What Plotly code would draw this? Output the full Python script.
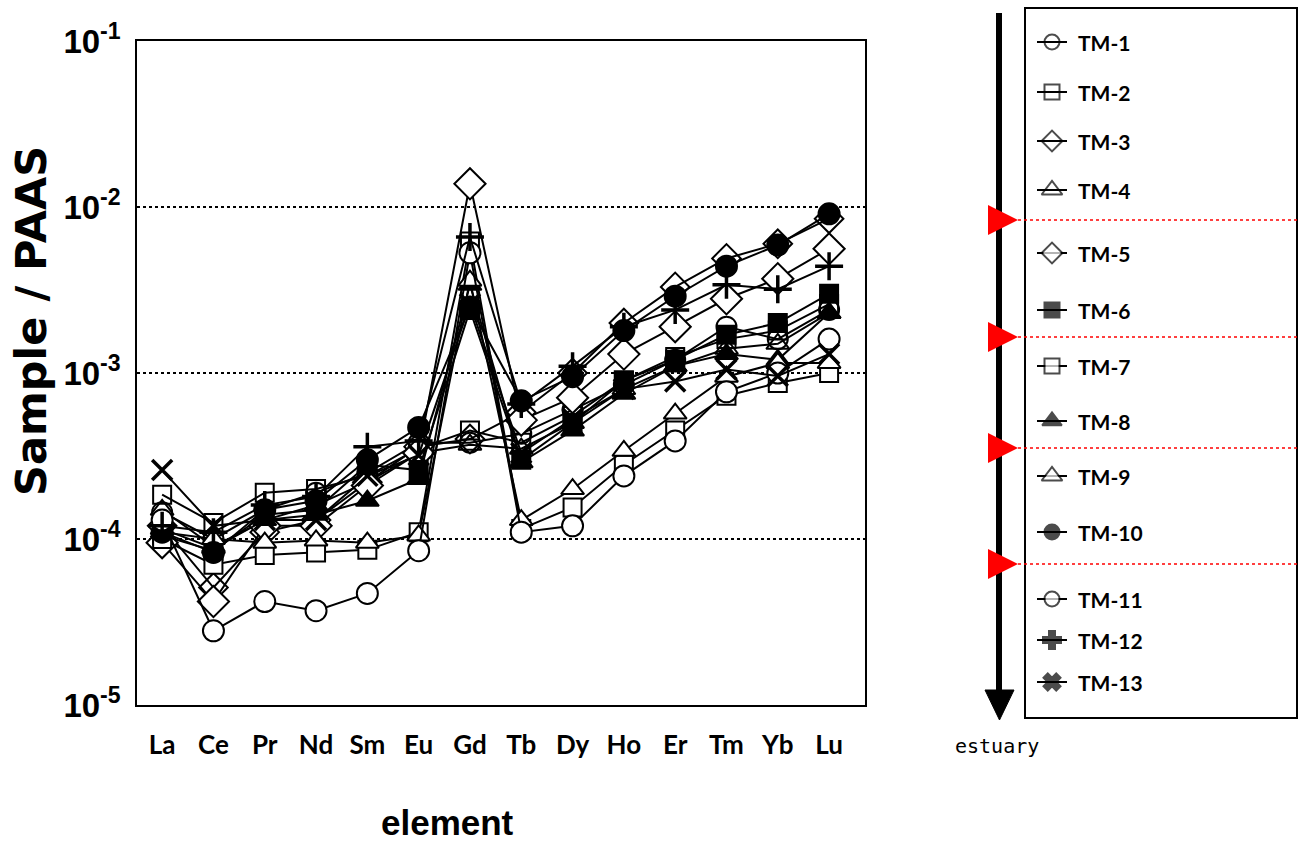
import plotly.graph_objects as go

# Rare earth elements (x axis)
elements = ["La", "Ce", "Pr", "Nd", "Sm", "Eu", "Gd", "Tb", "Dy", "Ho", "Er", "Tm", "Yb", "Lu"]

# PAAS-normalised concentrations for each sample
tm1 = [1.45e-4, 1.0e-4, 1.5e-4, 1.9e-4, 2.5e-4, 3.8e-4, 3.8e-4, 4.3e-4, 6.0e-4, 8.5e-4, 1.2e-3, 1.9e-3, 1.6e-3, 2.4e-3]
tm2 = [1.85e-4, 1.25e-4, 1.9e-4, 2.0e-4, 2.4e-4, 3.5e-4, 4.5e-4, 3.8e-4, 5.5e-4, 9.0e-4, 1.25e-3, 1.6e-3, 1.8e-3, 2.6e-3]
tm3 = [1.2e-4, 5.1e-5, 1.1e-4, 1.3e-4, 2.2e-4, 3.6e-4, 4.0e-4, 5.8e-4, 1.0e-3, 2.0e-3, 3.3e-3, 4.9e-3, 6.0e-3, 8.5e-3]
tm4 = [1.5e-4, 9.0e-5, 1.3e-4, 1.6e-4, 2.2e-4, 3.3e-4, 3.7e-4, 3.5e-4, 5.0e-4, 8.0e-4, 1.1e-3, 1.4e-3, 1.5e-3, 2.3e-3]
tm5 = [9.5e-5, 4.2e-5, 1.2e-4, 1.2e-4, 2.1e-4, 3.3e-4, 1.38e-2, 5.2e-4, 7.1e-4, 1.3e-3, 1.9e-3, 2.8e-3, 3.7e-3, 5.6e-3]
tm6 = [1.05e-4, 8.5e-5, 1.4e-4, 1.5e-4, 2.8e-4, 2.6e-4, 2.4e-3, 3.0e-4, 5.0e-4, 9.0e-4, 1.2e-3, 1.7e-3, 2.0e-3, 3.0e-3]
tm7 = [1.0e-4, 7.0e-5, 8.0e-5, 8.3e-5, 8.6e-5, 1.1e-4, 6.2e-3, 1.15e-4, 1.55e-4, 2.8e-4, 4.5e-4, 7.3e-4, 8.7e-4, 1.0e-3]
tm8 = [1.15e-4, 8.8e-5, 1.3e-4, 1.4e-4, 1.7e-4, 2.3e-4, 3.4e-3, 2.9e-4, 4.5e-4, 7.5e-4, 1.1e-3, 1.3e-3, 1.2e-3, 2.3e-3]
tm9 = [1.1e-4, 1.0e-4, 9.5e-5, 9.8e-5, 9.5e-5, 1.05e-4, 3.6e-3, 1.3e-4, 2.0e-4, 3.4e-4, 5.7e-4, 9.5e-4, 1.15e-3, 1.15e-3]
tm10 = [1.1e-4, 8.3e-5, 1.5e-4, 1.7e-4, 3.0e-4, 4.7e-4, 2.5e-3, 6.8e-4, 9.5e-4, 1.8e-3, 2.9e-3, 4.4e-3, 5.9e-3, 9.1e-3]
tm11 = [1.3e-4, 2.8e-5, 4.2e-5, 3.7e-5, 4.7e-5, 8.5e-5, 5.3e-3, 1.1e-4, 1.2e-4, 2.4e-4, 3.9e-4, 7.7e-4, 1.0e-3, 1.6e-3]
tm12 = [1.2e-4, 1.1e-4, 1.6e-4, 1.8e-4, 3.6e-4, 3.9e-4, 6.6e-3, 6.5e-4, 1.1e-3, 1.9e-3, 2.4e-3, 3.4e-3, 3.2e-3, 4.4e-3]
tm13 = [2.6e-4, 1.2e-4, 1.3e-4, 1.3e-4, 2.4e-4, 3.2e-4, 2.6e-3, 3.3e-4, 5.3e-4, 8.0e-4, 8.9e-4, 1.05e-3, 9.6e-4, 1.3e-3]

sample_names = ["TM-1", "TM-2", "TM-3", "TM-4", "TM-5", "TM-6", "TM-7",
                "TM-8", "TM-9", "TM-10", "TM-11", "TM-12", "TM-13"]
sample_values = [tm1, tm2, tm3, tm4, tm5, tm6, tm7, tm8, tm9, tm10, tm11, tm12, tm13]

y_tick_vals = [1e-5, 1e-4, 1e-3, 1e-2, 1e-1]
y_tick_text = ["10<sup>-5</sup>", "10<sup>-4</sup>", "10<sup>-3</sup>", "10<sup>-2</sup>", "10<sup>-1</sup>"]

W, H = 1301, 842

# marker styles: (plot symbol, legend symbol, fill, size in plot, size in legend)
styles = {
    "TM-1": ("circle-open", "circle-open", "black", 20, 15),
    "TM-2": ("square-open", "square-open", "black", 18, 15),
    "TM-3": ("diamond-open", "diamond-open", "black", 22, 16),
    "TM-4": ("triangle-up-open", "triangle-up-open", "black", 20, 18),
    "TM-5": ("diamond", "diamond", "white", 24, 16),
    "TM-6": ("square", "square", "black", 18, 15),
    "TM-7": ("square", "square", "white", 18, 15),
    "TM-8": ("triangle-up", "triangle-up", "black", 20, 17),
    "TM-9": ("triangle-up", "triangle-up", "white", 20, 18),
    "TM-10": ("circle", "circle", "black", 21, 15),
    "TM-11": ("circle", "circle", "white", 21, 15),
    "TM-12": ("cross-thin", "cross", "black", 20, 15),
    "TM-13": ("x-thin", "x", "black", 20, 15),
}

fig = go.Figure()

for name, vals in zip(sample_names, sample_values):
    sym, _, fill, size, _ = styles[name]
    thin = sym.endswith("-thin")
    fig.add_trace(go.Scatter(
        x=elements, y=vals, name=name, mode="lines+markers",
        line=dict(color="black", width=2),
        marker=dict(symbol=sym, size=size, color=fill,
                    line=dict(color="black", width=3.5 if thin else 2)),
        showlegend=False, xaxis="x", yaxis="y",
    ))

# legend panel drawn on a pixel-based overlay axis
legend_rows = [42, 92, 141, 190, 253, 310, 366, 421, 476, 532, 599, 640, 682]
for name, yc in zip(sample_names, legend_rows):
    _, lsym, fill, _, lsize = styles[name]
    fig.add_trace(go.Scatter(
        x=[1037, 1052, 1067], y=[yc, yc, yc], mode="lines+markers",
        line=dict(color="black", width=2),
        marker=dict(symbol=lsym, size=[0, lsize, 0], color=fill,
                    line=dict(color="black", width=2)),
        showlegend=False, xaxis="x2", yaxis="y2", hoverinfo="skip",
    ))

annotations = []
for name, yc in zip(sample_names, legend_rows):
    annotations.append(dict(
        x=1076, y=yc, xref="x2", yref="y2", text=name, showarrow=False,
        xanchor="left", yanchor="middle",
        font=dict(family="Lato", size=21, color="black", weight="bold"),
    ))

annotations += [
    dict(x=447, y=822, xref="x2", yref="y2", text="element", showarrow=False,
         xanchor="center", yanchor="middle",
         font=dict(family="Liberation Sans, Arial", size=35, color="black", weight="bold")),
    dict(x=31, y=321, xref="x2", yref="y2", text="Sample / PAAS", showarrow=False,
         textangle=-90, xanchor="center", yanchor="middle",
         font=dict(family="DejaVu Sans", size=43, color="black", weight="bold")),
    dict(x=997, y=746, xref="x2", yref="y2", text="estuary", showarrow=False,
         xanchor="center", yanchor="middle",
         font=dict(family="DejaVu Sans Mono", size=20, color="black")),
]

shapes = [
    # legend box
    dict(type="rect", xref="x2", yref="y2", x0=1025, y0=8, x1=1297, y1=718,
         line=dict(color="black", width=2), fillcolor="rgba(0,0,0,0)", layer="below"),
    # river flow arrow
    dict(type="line", xref="x2", yref="y2", x0=999, y0=13, x1=999, y1=695,
         line=dict(color="black", width=6)),
    dict(type="path", xref="x2", yref="y2",
         path="M 985 690 L 1014 690 L 999.5 720 Z",
         fillcolor="black", line=dict(color="black", width=1)),
]
for yc in [220, 337, 448, 564]:
    shapes.append(dict(type="path", xref="x2", yref="y2",
                       path=f"M 988 {yc-15} L 988 {yc+15} L 1018 {yc} Z",
                       fillcolor="#ff0000", line=dict(color="#ff0000", width=0)))
    shapes.append(dict(type="line", xref="x2", yref="y2", x0=1018, y0=yc, x1=1297, y1=yc,
                       line=dict(color="#ff0000", width=1.5, dash="dot")))

fig.update_layout(
    width=W, height=H,
    margin=dict(l=0, r=0, t=0, b=0, autoexpand=False),
    paper_bgcolor="white", plot_bgcolor="rgba(0,0,0,0)",
    xaxis=dict(
        domain=[137 / W, 865 / W], anchor="y", automargin=False,
        type="category", categoryorder="array", categoryarray=elements,
        range=[-0.49, 13.7],
        showline=True, linecolor="black", linewidth=1.5, mirror=True,
        showgrid=False, zeroline=False, ticks="",
        ticklabelstandoff=16,
        tickfont=dict(family="Lato", size=26, color="black", weight="bold"),
    ),
    yaxis=dict(
        domain=[(H - 705) / H, (H - 41) / H], anchor="x", automargin=False,
        type="log", range=[-5, -1],
        tickvals=y_tick_vals, ticktext=y_tick_text,
        showline=True, linecolor="black", linewidth=1.5, mirror=True,
        showgrid=True, gridcolor="black", gridwidth=1.5, griddash="dot",
        zeroline=False, ticks="", ticklabelstandoff=8,
        tickfont=dict(family="Liberation Sans, Arial", size=33, color="black", weight="bold"),
    ),
    xaxis2=dict(domain=[0, 1], range=[0, W], anchor="y2", visible=False,
                fixedrange=True, automargin=False),
    yaxis2=dict(domain=[0, 1], range=[H, 0], anchor="x2", visible=False,
                fixedrange=True, automargin=False),
    shapes=shapes,
    annotations=annotations,
)

fig.write_html("out.html")
